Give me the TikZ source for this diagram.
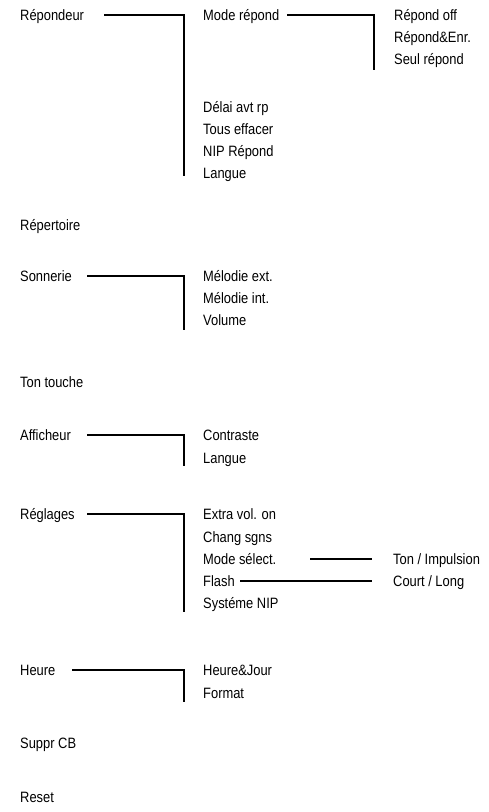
\documentclass[tikz,border=0pt]{standalone}
\usepackage{fontspec}
\setmainfont{Liberation Sans}[FakeStretch=0.86]
\begin{document}
\begin{tikzpicture}[x=1pt,y=-1pt,
  lbl/.style={anchor=base west,inner sep=0pt,font=\fontsize{15}{17}\selectfont},
  conn/.style={draw=black,line width=1.2pt}]
\useasboundingbox (0,0) rectangle (489,812);
% column 1
\node[lbl] (rep) at (20,20) {Répondeur};
\node[lbl] (reper) at (20,230) {Répertoire};
\node[lbl] (son) at (20,281) {Sonnerie};
\node[lbl] (ton) at (20,387) {Ton touche};
\node[lbl] (aff) at (20,440) {Afficheur};
\node[lbl] (reg) at (20,519) {Réglages};
\node[lbl] (heu) at (20,675) {Heure};
\node[lbl] (sup) at (20,748) {Suppr CB};
\node[lbl] (res) at (20,802) {Reset};
% column 2
\node[lbl] (mode) at (203,20) {Mode répond};
\node[lbl] (delai) at (203,112) {Délai avt rp};
\node[lbl] (tous) at (203,134) {Tous effacer};
\node[lbl] (nip) at (203,156) {NIP Répond};
\node[lbl] (lang1) at (203,178) {Langue};
\node[lbl] (melx) at (203,281) {Mélodie ext.};
\node[lbl] (meli) at (203,303) {Mélodie int.};
\node[lbl] (vol) at (203,325) {Volume};
\node[lbl] (contr) at (203,440) {Contraste};
\node[lbl] (lang2) at (203,463) {Langue};
\node[lbl] (extra) at (203,519) {Extra vol. on};
\node[lbl] (chang) at (203,542) {Chang sgns};
\node[lbl] (msel) at (203,564) {Mode sélect.};
\node[lbl] (flash) at (203,586) {Flash};
\node[lbl] (sysn) at (203,608) {Systéme NIP};
\node[lbl] (hj) at (203,675) {Heure\&Jour};
\node[lbl] (fmt) at (203,698) {Format};
% column 3
\node[lbl] (roff) at (394,20) {Répond off};
\node[lbl] (renr) at (394,42) {Répond\&Enr.};
\node[lbl] (seul) at (394,64) {Seul répond};
\node[lbl] (timp) at (393,564) {Ton / Impulsion};
\node[lbl] (clong) at (393,586) {Court / Long};
% corner and start coordinates
\coordinate (s1) at (104,15);  \coordinate (c1) at (184,15);  \coordinate (e1) at (184,176);
\coordinate (s2) at (287,15);  \coordinate (c2) at (374,15);  \coordinate (e2) at (374,70);
\coordinate (s3) at (87,276);  \coordinate (c3) at (184,276); \coordinate (e3) at (184,330);
\coordinate (s4) at (87,435);  \coordinate (c4) at (184,435); \coordinate (e4) at (184,466);
\coordinate (s5) at (87,514);  \coordinate (c5) at (184,514); \coordinate (e5) at (184,612);
\coordinate (s6) at (72,670);  \coordinate (c6) at (184,670); \coordinate (e6) at (184,702);
\coordinate (s7) at (310,559); \coordinate (t7) at (372,559);
\coordinate (s8) at (240,581); \coordinate (t8) at (372,581);
% connectors
\draw[conn] (s1) -- (c1) -- (e1);
\draw[conn] (s2) -- (c2) -- (e2);
\draw[conn] (s3) -- (c3) -- (e3);
\draw[conn] (s4) -- (c4) -- (e4);
\draw[conn] (s5) -- (c5) -- (e5);
\draw[conn] (s6) -- (c6) -- (e6);
\draw[conn] (s7) -- (t7);
\draw[conn] (s8) -- (t8);
\end{tikzpicture}
\end{document}
